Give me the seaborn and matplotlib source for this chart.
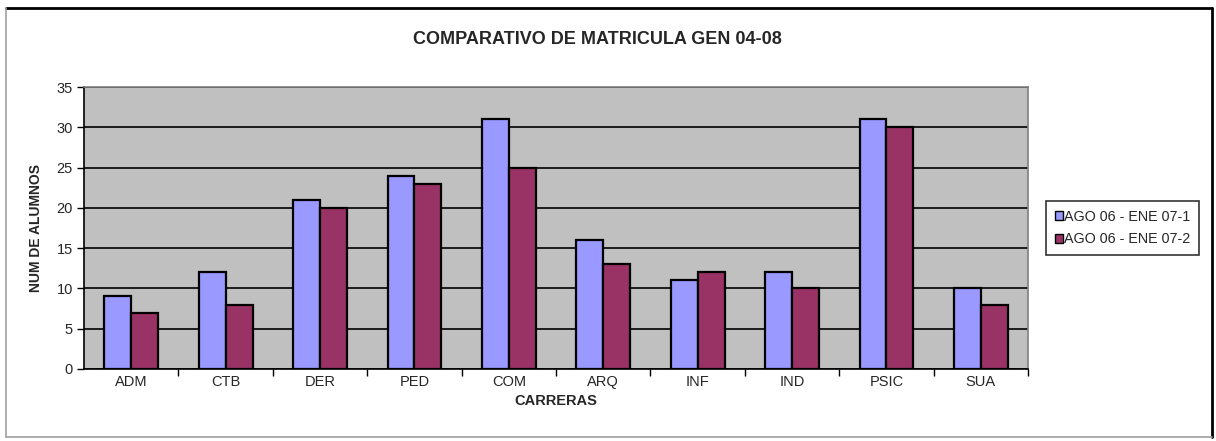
import pandas as pd
import seaborn as sns
import matplotlib.pyplot as plt
from matplotlib.lines import Line2D
from matplotlib.ticker import FixedLocator, NullFormatter

# data
carreras = ['ADM', 'CTB', 'DER', 'PED', 'COM', 'ARQ', 'INF', 'IND', 'PSIC', 'SUA']
serie_1 = [9, 12, 21, 24, 31, 16, 11, 12, 31, 10]
serie_2 = [7, 8, 20, 23, 25, 13, 12, 10, 30, 8]
series = ['AGO 06 - ENE 07-1', 'AGO 06 - ENE 07-2']
y_ticks = [0, 5, 10, 15, 20, 25, 30, 35]

df = pd.DataFrame({
    'carrera': carreras * 2,
    'alumnos': serie_1 + serie_2,
    'serie': [series[0]] * len(carreras) + [series[1]] * len(carreras),
})

sns.set_style('white')
plt.rcParams['font.family'] = ['Liberation Sans', 'DejaVu Sans']

fig = plt.figure(figsize=(12.16, 4.41), dpi=100)
ax = fig.add_axes([0.0691, 0.1633, 0.7763, 0.6394])
ax.set_facecolor('#C0C0C0')

sns.barplot(data=df, x='carrera', y='alumnos', hue='serie', order=carreras,
            hue_order=series, palette=['#9999FF', '#993366'], width=0.57,
            gap=0, edgecolor='black', linewidth=1.6, saturation=1,
            errorbar=None, ax=ax, zorder=3)

ax.set_ylim(0, 35)
ax.set_xlim(-0.5, len(carreras) - 0.5)
ax.set_yticks(y_ticks)
ax.yaxis.grid(True, color='black', linewidth=1.2, zorder=1)
ax.set_axisbelow(True)
for s in ['top', 'right']:
    ax.spines[s].set_color('#808080')
    ax.spines[s].set_linewidth(1.2)
for s in ['left', 'bottom']:
    ax.spines[s].set_color('black')
    ax.spines[s].set_linewidth(1.2)

ax.tick_params(axis='y', which='major', direction='out', length=5, width=1,
               color='black', left=True, labelsize=10.5, pad=3)
ax.tick_params(axis='x', which='major', length=0, labelsize=10.5, pad=4)
ax.xaxis.set_minor_locator(FixedLocator([i + 0.5 for i in range(len(carreras))]))
ax.xaxis.set_minor_formatter(NullFormatter())
ax.tick_params(axis='x', which='minor', direction='out', length=5, width=1,
               color='black', bottom=True)

ax.set_xlabel('CARRERAS', fontsize=10.5, fontweight='bold', labelpad=4)
ax.set_ylabel('NUM DE ALUMNOS', fontsize=10, fontweight='bold', labelpad=10)
fig.text(0.491, 0.91, 'COMPARATIVO DE MATRICULA GEN 04-08', ha='center',
         va='center', fontsize=13, fontweight='bold')

leg = ax.legend(loc='center left', bbox_to_anchor=(1.012, 0.5), frameon=True,
                fancybox=False, edgecolor='black', fontsize=10.3, handlelength=0.55,
                handleheight=0.55, handletextpad=0.1, borderpad=0.6,
                labelspacing=0.6)
leg.get_frame().set_linewidth(1.2)
for h in leg.legend_handles:
    h.set_linewidth(1)

# chart border
fig.add_artist(Line2D([0.005, 0.997], [0.982, 0.982], color='black', lw=2))
fig.add_artist(Line2D([0.005, 0.005], [0.01, 0.982], color='#A0A0A0', lw=1.2))
fig.add_artist(Line2D([0.997, 0.997], [0.01, 0.982], color='black', lw=2))
fig.add_artist(Line2D([0.005, 0.997], [0.01, 0.01], color='#A0A0A0', lw=1.2))

fig.savefig('out.png', dpi=100)
